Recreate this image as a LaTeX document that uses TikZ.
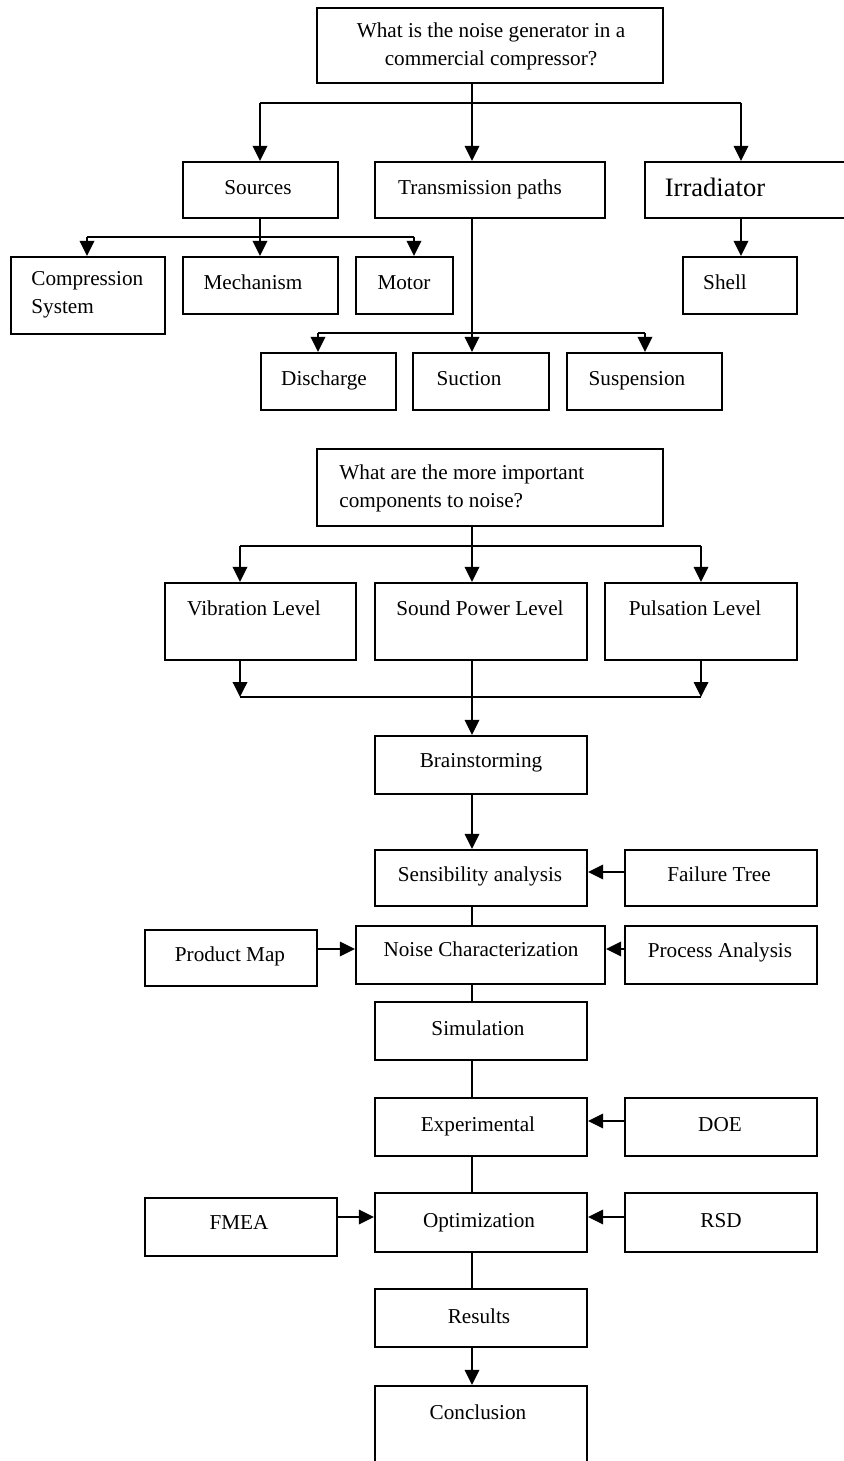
\documentclass[tikz,border=0pt]{standalone}
\usepackage{fontspec}
\setmainfont{Liberation Serif}
\usetikzlibrary{arrows.meta}
\begin{document}
\begin{tikzpicture}[x=0.5pt,y=-0.5pt,
  box/.style={draw, line width=1.1pt, inner sep=0pt, rectangle},
  txt/.style={inner sep=0pt, text height=0.66em, text depth=0pt, font=\fontsize{10.6}{14}\selectfont},
  mtxt/.style={inner sep=0pt, font=\fontsize{10.6}{14}\selectfont},
  bigtxt/.style={inner sep=0pt, text height=0.66em, text depth=0pt, font=\fontsize{13.3}{16}\selectfont},
  ln/.style={line width=1.1pt},
  arr/.style={line width=1.1pt, -{Triangle[length=7.5pt,width=7.2pt]}}]
\fill[white] (0,0) rectangle (844,1461);
\useasboundingbox (0,0) rectangle (844,1461);
% coordinates
\coordinate (sp) at (472,0);
\coordinate (j1L) at (260,103); \coordinate (j1R) at (741,103);
\coordinate (j2L) at (87,237);  \coordinate (j2M) at (260,237); \coordinate (j2R) at (414,237);
\coordinate (j3L) at (318,333); \coordinate (j3R) at (645,333);
\coordinate (j4L) at (240,546); \coordinate (j4R) at (701,546);
\coordinate (j5L) at (240,697); \coordinate (j5R) at (701,697);
\coordinate (h1) at (0,872); \coordinate (h2) at (0,949);
\coordinate (h3) at (0,1121); \coordinate (h4) at (0,1217);
% boxes
\node[box, minimum width=173pt, minimum height=37.5pt] (q1) at (490,45.5) {};
\node[box, minimum width=77.5pt, minimum height=28pt] (src) at (260.5,190) {};
\node[box, minimum width=115pt, minimum height=28pt] (tp) at (490,190) {};
\node[box, minimum width=107.5pt, minimum height=28pt] (irr) at (752.5,190) {};
\node[box, minimum width=77pt, minimum height=38.5pt] (cs) at (88,295.5) {};
\node[box, minimum width=77.5pt, minimum height=28.5pt] (mech) at (260.5,285.5) {};
\node[box, minimum width=48.5pt, minimum height=28.5pt] (mot) at (404.5,285.5) {};
\node[box, minimum width=57pt, minimum height=28.5pt] (shell) at (740,285.5) {};
\node[box, minimum width=67.5pt, minimum height=28.5pt] (dis) at (328.5,381.5) {};
\node[box, minimum width=68pt, minimum height=28.5pt] (suc) at (481,381.5) {};
\node[box, minimum width=77.5pt, minimum height=28.5pt] (sus) at (644.5,381.5) {};
\node[box, minimum width=173pt, minimum height=38.5pt] (q2) at (490,487.5) {};
\node[box, minimum width=95.5pt, minimum height=38.5pt] (vib) at (260.5,621.5) {};
\node[box, minimum width=106pt, minimum height=38.5pt] (spl) at (481,621.5) {};
\node[box, minimum width=96pt, minimum height=38.5pt] (pul) at (701,621.5) {};
\node[box, minimum width=106pt, minimum height=29pt] (br) at (481,765) {};
\node[box, minimum width=106pt, minimum height=28pt] (sa) at (481,878) {};
\node[box, minimum width=96pt, minimum height=28pt] (ft) at (721,878) {};
\node[box, minimum width=124.5pt, minimum height=29pt] (nc) at (480.5,955) {};
\node[box, minimum width=86pt, minimum height=28pt] (pm) at (231,958) {};
\node[box, minimum width=96pt, minimum height=29pt] (pa) at (721,955) {};
\node[box, minimum width=106pt, minimum height=29pt] (sim) at (481,1031) {};
\node[box, minimum width=106pt, minimum height=29pt] (ex) at (481,1127) {};
\node[box, minimum width=96pt, minimum height=29pt] (doe) at (721,1127) {};
\node[box, minimum width=106pt, minimum height=29.5pt] (opt) at (481,1222.5) {};
\node[box, minimum width=96pt, minimum height=29pt] (fm) at (241,1227) {};
\node[box, minimum width=96pt, minimum height=29.5pt] (rsd) at (721,1222.5) {};
\node[box, minimum width=106pt, minimum height=29pt] (res) at (481,1318) {};
\node[box, minimum width=106pt, minimum height=57pt] (con) at (481,1443) {};
% texts
\node[mtxt, align=center, anchor=north] (q1t) at (491,22.5) {What is the noise generator in a\\commercial compressor?};
\node[txt] (srct) at (258,188) {Sources};
\node[txt] (tpt) at (480,188) {Transmission paths};
\node[bigtxt] (irrt) at (715,190) {Irradiator};
\node[mtxt, align=left, anchor=north west] (cst) at (31,271.5) {Compression\\System};
\node[txt] (mecht) at (253,283) {Mechanism};
\node[txt] (mott) at (404,283) {Motor};
\node[txt] (shellt) at (725,283) {Shell};
\node[txt] (dist) at (324,379) {Discharge};
\node[txt] (suct) at (469,379) {Suction};
\node[txt] (sust) at (637,379) {Suspension};
\node[mtxt, align=left, anchor=north west] (q2t) at (339,464.5) {What are the more important\\components to noise?};
\node[txt] (vibt) at (254,609) {Vibration Level};
\node[txt] (splt) at (480,609) {Sound Power Level};
\node[txt] (pult) at (695,609) {Pulsation Level};
\node[txt] (brt) at (481,761) {Brainstorming};
\node[txt] (sat) at (480,875) {Sensibility analysis};
\node[txt] (ftt) at (719,875) {Failure Tree};
\node[txt] (nct) at (481,950) {Noise Characterization};
\node[txt] (pmt) at (230,955) {Product Map};
\node[txt] (pat) at (720,951) {Process Analysis};
\node[txt] (simt) at (478,1029) {Simulation};
\node[txt] (ext) at (478,1125) {Experimental};
\node[txt] (doet) at (720,1125) {DOE};
\node[txt] (optt) at (479,1221) {Optimization};
\node[txt] (fmt) at (239,1223) {FMEA};
\node[txt] (rsdt) at (721,1221) {RSD};
\node[txt] (rest) at (479,1317) {Results};
\node[txt] (cont) at (478,1413) {Conclusion};
% connectors
\draw[arr] (sp |- q1.south) -- (sp |- tp.north);
\draw[ln] (j1L) -- (j1R);
\draw[arr] (j1L) -- (j1L |- src.north);
\draw[arr] (j1R) -- (j1R |- irr.north);
\draw[arr] (j2M |- src.south) -- (j2M |- mech.north);
\draw[ln] (j2L) -- (j2R);
\draw[arr] (j2L) -- (j2L |- cs.north);
\draw[arr] (j2R) -- (j2R |- mot.north);
\draw[arr] (j1R |- irr.south) -- (j1R |- shell.north);
\draw[arr] (sp |- tp.south) -- (sp |- suc.north);
\draw[ln] (j3L) -- (j3R);
\draw[arr] (j3L) -- (j3L |- dis.north);
\draw[arr] (j3R) -- (j3R |- sus.north);
\draw[arr] (sp |- q2.south) -- (sp |- spl.north);
\draw[ln] (j4L) -- (j4R);
\draw[arr] (j4L) -- (j4L |- vib.north);
\draw[arr] (j4R) -- (j4R |- pul.north);
\draw[arr] (j4L |- vib.south) -- (j5L);
\draw[arr] (j4R |- pul.south) -- (j5R);
\draw[ln] (j5L) -- (j5R);
\draw[arr] (sp |- spl.south) -- (sp |- br.north);
\draw[arr] (sp |- br.south) -- (sp |- sa.north);
\draw[ln] (sp |- sa.south) -- (sp |- nc.north);
\draw[ln] (sp |- nc.south) -- (sp |- sim.north);
\draw[ln] (sp |- sim.south) -- (sp |- ex.north);
\draw[ln] (sp |- ex.south) -- (sp |- opt.north);
\draw[ln] (sp |- opt.south) -- (sp |- res.north);
\draw[arr] (sp |- res.south) -- (sp |- con.north);
\draw[arr] (ft.west |- h1) -- (sa.east |- h1);
\draw[arr] (pm.east |- h2) -- (nc.west |- h2);
\draw[arr] (pa.west |- h2) -- (nc.east |- h2);
\draw[arr] (doe.west |- h3) -- (ex.east |- h3);
\draw[arr] (fm.east |- h4) -- (opt.west |- h4);
\draw[arr] (rsd.west |- h4) -- (opt.east |- h4);
\end{tikzpicture}
\end{document}
